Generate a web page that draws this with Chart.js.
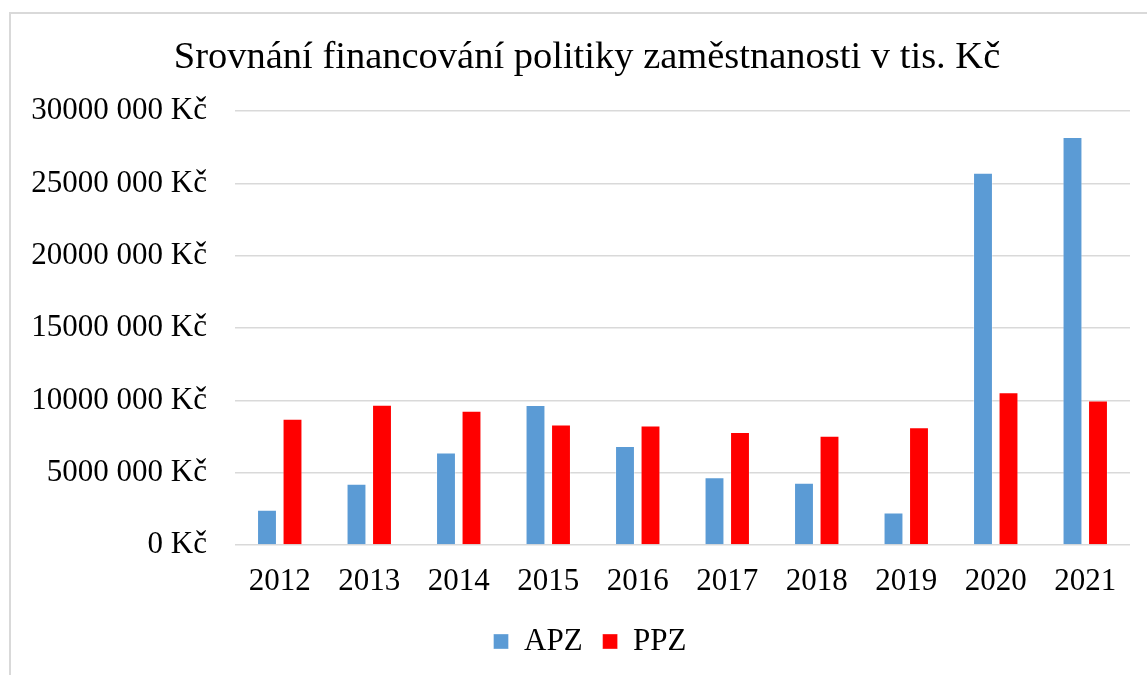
<!DOCTYPE html>
<html>
<head>
<meta charset="utf-8">
<script src="https://cdn.jsdelivr.net/npm/chart.js@4.4.0/dist/chart.umd.min.js"></script>
<style>
  html, body { margin: 0; padding: 0; background: #ffffff; overflow: hidden; }
  #frame { position: absolute; left: 9px; top: 12px; width: 1200px; height: 720px; border: 2px solid #d9d9d9; box-sizing: border-box; }
  #wrap { position: absolute; left: 0; top: 0; width: 1147px; height: 675px; }
</style>
</head>
<body>
<div id="frame"></div>
<div id="wrap"><canvas id="c" width="1147" height="675"></canvas></div>
<script>
const categories = ['2012', '2013', '2014', '2015', '2016', '2017', '2018', '2019', '2020', '2021'];
const apzValues = [2430000, 4240000, 6390000, 9680000, 6850000, 4680000, 4310000, 2250000, 25740000, 28220000];
const ppzValues = [8730000, 9700000, 9280000, 8330000, 8260000, 7820000, 7550000, 8150000, 10560000, 10000000];
const seriesNames = ['APZ', 'PPZ'];
const titleText = 'Srovnání financování politiky zaměstnanosti v tis. Kč';
const yTickValues = [0, 5000000, 10000000, 15000000, 20000000, 25000000, 30000000];

function formatKc(v) {
  if (v === 0) return '0 Kč';
  return (v / 1000) + ' 000 Kč';
}

const FONT = "'Liberation Serif', 'Times New Roman', serif";

// shift centred title and legend to match the reference's centring
const centreShift = {
  id: 'centreShift',
  beforeDraw(chart) {
    if (chart.titleBlock) chart.titleBlock.left = 44;
    if (chart.legend) chart.legend.left = 50;
  }
};

new Chart(document.getElementById('c'), {
  type: 'bar',
  data: {
    labels: categories,
    datasets: [
      { label: seriesNames[0], data: apzValues, backgroundColor: '#5b9bd5', borderColor: 'rgba(255,255,255,0.35)', borderWidth: 1, categoryPercentage: 0.57, barPercentage: 0.78 },
      { label: seriesNames[1], data: ppzValues, backgroundColor: '#ff0000', borderColor: 'rgba(255,255,255,0.35)', borderWidth: 1, categoryPercentage: 0.57, barPercentage: 0.78 }
    ]
  },
  plugins: [centreShift],
  options: {
    responsive: false,
    animation: false,
    devicePixelRatio: 1,
    layout: { padding: { left: 0, right: 17, top: 0, bottom: 8 } },
    plugins: {
      title: {
        display: true,
        text: titleText,
        color: '#000000',
        font: { family: FONT, size: 38.5, weight: 'normal' },
        padding: { top: 35, bottom: 30 }
      },
      legend: {
        position: 'bottom',
        labels: {
          color: '#000000',
          font: { family: FONT, size: 31 },
          boxWidth: 15,
          boxHeight: 15,
          padding: 20
        }
      },
      tooltip: { enabled: false }
    },
    scales: {
      x: {
        grid: { display: false, drawTicks: false },
        border: { display: false },
        afterFit: (scale) => { scale.height = 61; },
        ticks: { color: '#000000', font: { family: FONT, size: 31 }, padding: 18 }
      },
      y: {
        min: 0,
        max: 30000000,
        afterBuildTicks: (scale) => { scale.ticks = yTickValues.map(v => ({ value: v })); },
        afterFit: (scale) => { scale.width = 235; },
        grid: { color: '#d9d9d9', lineWidth: 1.5, drawTicks: false },
        border: { display: false },
        ticks: { color: '#000000', font: { family: FONT, size: 31 }, padding: 28, callback: (v) => formatKc(v) }
      }
    }
  }
});
</script>
</body>
</html>
